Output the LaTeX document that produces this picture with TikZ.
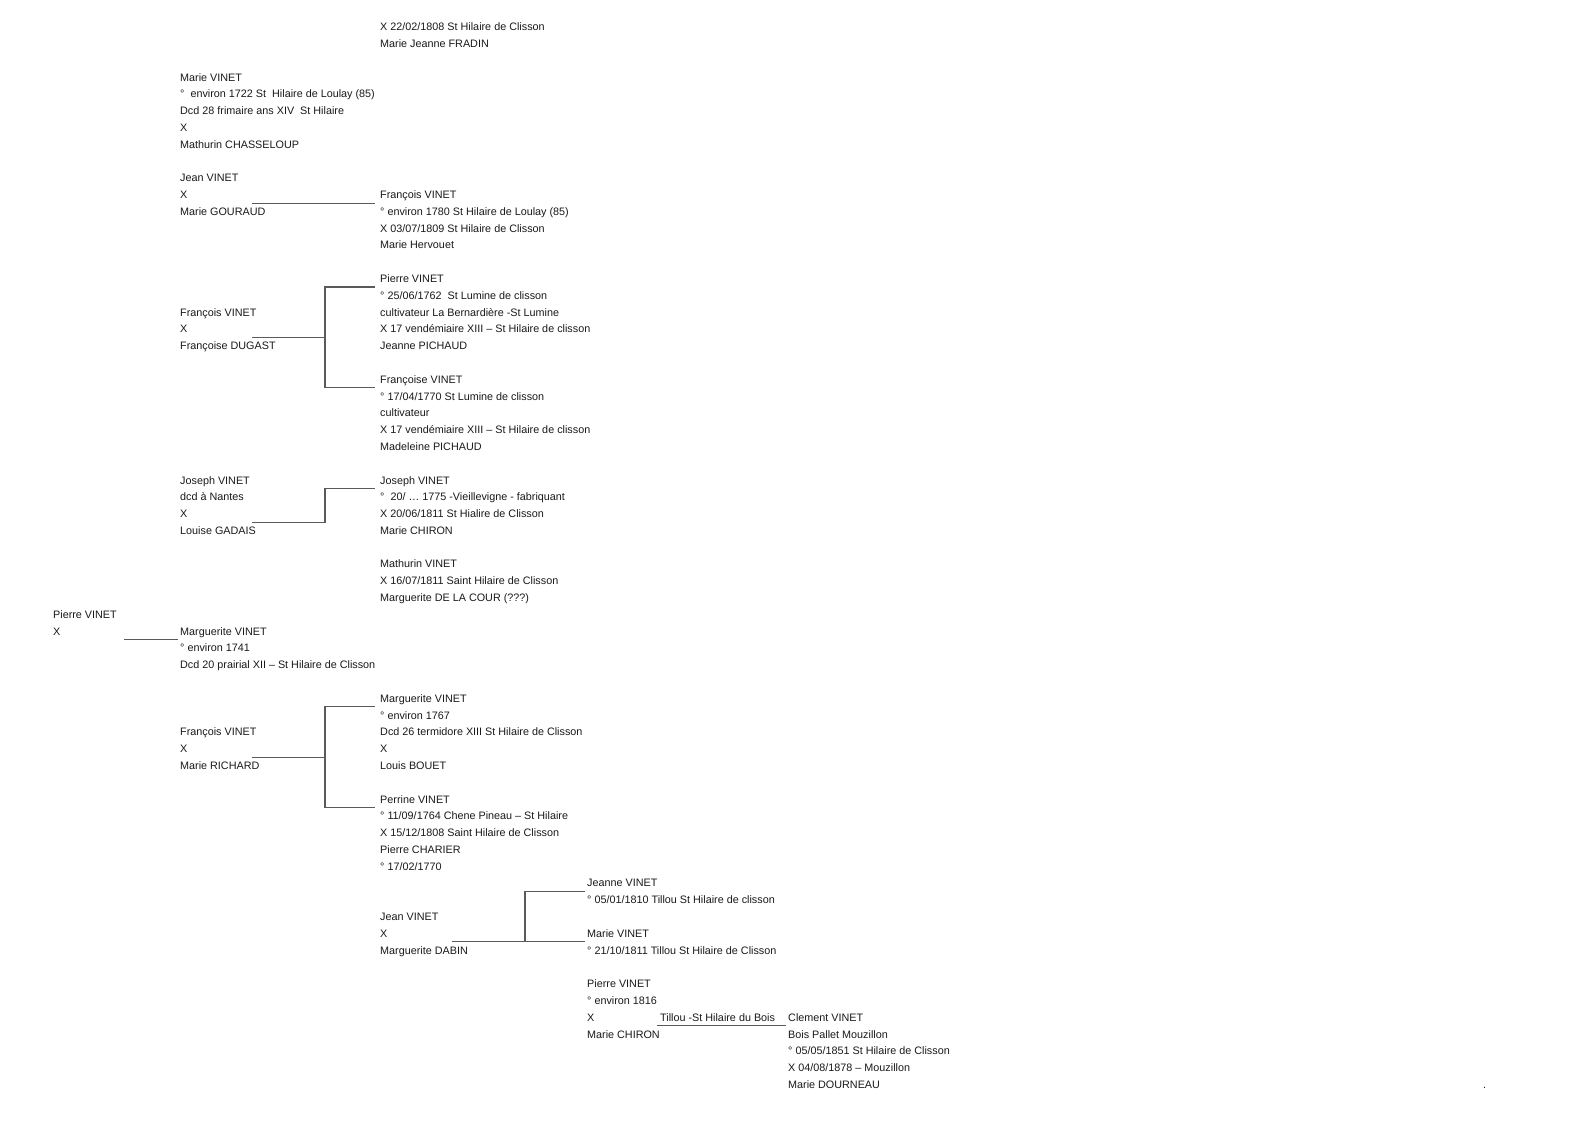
\documentclass[tikz,border=0pt]{standalone}
\usepackage{fontspec}
\setmainfont{Liberation Sans}
\usetikzlibrary{calc}
\definecolor{TreeInk}{HTML}{1A1A1A}
\definecolor{TreeLine}{HTML}{5A5A5A}
% first-line baseline for multi-line entries
\newcommand{\entrylines}[1]{\begin{tabular}[t]{@{}l@{}}#1\end{tabular}}
\tikzset{
  every node/.style={font=\fontsize{10.8}{16.79}\selectfont, text=TreeInk},
  entry/.style={anchor=base west, inner sep=0pt},
  link/.style={draw=TreeLine, line width=1.2pt},
}

\begin{document}
\begin{tikzpicture}[x=1pt,y=-16.79pt]
  % Page: x in px, y in text rows (row 0 = first baseline)
  \path[fill=white] (0,-1.828) rectangle (1588,65.06);
  % Top of the sheet
  \node[entry] (fradin) at (380,0) {\entrylines{X 22/02/1808 St Hilaire de Clisson\\Marie Jeanne FRADIN}};
  \node[entry] (marieA) at (180,3) {\entrylines{Marie VINET\\°\ \ environ 1722 St\ \ Hilaire de Loulay (85)\\Dcd 28 frimaire ans XIV\ \ St Hilaire\\X\\Mathurin CHASSELOUP}};
  % Jean x Marie GOURAUD
  \node[entry] (jeanA) at (180,9) {\entrylines{Jean VINET\\X\\Marie GOURAUD}};
  \node[entry] (francoisB) at (380,10) {\entrylines{François VINET\\° environ 1780 St Hilaire de Loulay (85)\\X 03/07/1809 St Hilaire de Clisson\\Marie Hervouet}};
  % François x Françoise DUGAST
  \node[entry] (francoisA) at (180,17) {\entrylines{François VINET\\X\\Françoise DUGAST}};
  \node[entry] (pierreB) at (380,15) {\entrylines{Pierre VINET\\° 25/06/1762\ \ St Lumine de clisson\\cultivateur La Bernardière -St Lumine\\X 17 vendémiaire XIII – St Hilaire de clisson\\Jeanne PICHAUD}};
  \node[entry] (francoiseB) at (380,21) {\entrylines{Françoise VINET\\° 17/04/1770 St Lumine de clisson\\cultivateur\\X 17 vendémiaire XIII – St Hilaire de clisson\\Madeleine PICHAUD}};
  % Joseph x Louise GADAIS
  \node[entry] (josephA) at (180,27) {\entrylines{Joseph VINET\\dcd à Nantes\\X\\Louise GADAIS}};
  \node[entry] (josephB) at (380,27) {\entrylines{Joseph VINET\\°\ \ 20/ … 1775 -Vieillevigne - fabriquant\\X 20/06/1811 St Hialire de Clisson\\Marie CHIRON}};
  \node[entry] (mathurinB) at (380,32) {\entrylines{Mathurin VINET\\X 16/07/1811 Saint Hilaire de Clisson\\Marguerite DE LA COUR (???)}};
  % Root
  \node[entry] (pierreA) at (53,35) {\entrylines{Pierre VINET\\X}};
  \node[entry] (margueriteA) at (180,36) {\entrylines{Marguerite VINET\\° environ 1741\\Dcd 20 prairial XII – St Hilaire de Clisson}};
  % François x Marie RICHARD
  \node[entry] (francoisC) at (180,42) {\entrylines{François VINET\\X\\Marie RICHARD}};
  \node[entry] (margueriteB) at (380,40) {\entrylines{Marguerite VINET\\° environ 1767\\Dcd 26 termidore XIII St Hilaire de Clisson\\X\\Louis BOUET}};
  \node[entry] (perrineB) at (380,46) {\entrylines{Perrine VINET\\° 11/09/1764 Chene Pineau – St Hilaire\\X 15/12/1808 Saint Hilaire de Clisson\\Pierre CHARIER\\° 17/02/1770}};
  % Jean x Marguerite DABIN
  \node[entry] (jeanB) at (380,53) {\entrylines{Jean VINET\\X\\Marguerite DABIN}};
  \node[entry] (jeanneC) at (587,51) {\entrylines{Jeanne VINET\\° 05/01/1810 Tillou St Hilaire de clisson}};
  \node[entry] (marieC) at (587,54) {\entrylines{Marie VINET\\° 21/10/1811 Tillou St Hilaire de Clisson}};
  % Pierre x Marie CHIRON
  \node[entry] (pierreC) at (587,57) {\entrylines{Pierre VINET\\° environ 1816\\X\\Marie CHIRON}};
  \node[entry] (tillou) at (660,59) {Tillou -St Hilaire du Bois};
  \node[entry] (clement) at (788,59) {\entrylines{Clement VINET\\Bois Pallet Mouzillon\\° 05/05/1851 St Hilaire de Clisson\\X 04/08/1878 – Mouzillon\\Marie DOURNEAU}};
  \node[entry] (dot) at (1483,63) {.};
  % Connectors
  \draw[link] ($(jeanA.base west)+(72,1.27)$) -- ($(francoisB.base west)+(-5,0.27)$);
  \draw[link] ($(francoisA.base west)+(72,1.27)$) -- ($(francoisA.base west)+(145,1.27)$);
  \draw[link] ($(pierreB.base west)+(-5,0.27)$) -| ($(francoiseB.base west)+(-55,0.27)$)
    -- ($(francoiseB.base west)+(-5,0.27)$);
  \draw[link] ($(josephA.base west)+(72,2.27)$) -| ($(josephB.base west)+(-55,0.27)$)
    -- ($(josephB.base west)+(-5,0.27)$);
  \draw[link] ($(pierreA.base west)+(71,1.27)$) -- ($(margueriteA.base west)+(-2,0.27)$);
  \draw[link] ($(francoisC.base west)+(72,1.27)$) -- ($(francoisC.base west)+(145,1.27)$);
  \draw[link] ($(margueriteB.base west)+(-5,0.27)$) -| ($(perrineB.base west)+(-55,0.27)$)
    -- ($(perrineB.base west)+(-5,0.27)$);
  \draw[link] ($(jeanB.base west)+(72,1.27)$) -- ($(marieC.base west)+(-2,0.27)$);
  \draw[link] ($(jeanneC.base west)+(-2,0.27)$) -| ($(marieC.base west)+(-62,0.27)$);
  \draw[link] ($(pierreC.base west)+(70,2.27)$) -- ($(clement.base west)+(-2,0.27)$);
\end{tikzpicture}
\end{document}
